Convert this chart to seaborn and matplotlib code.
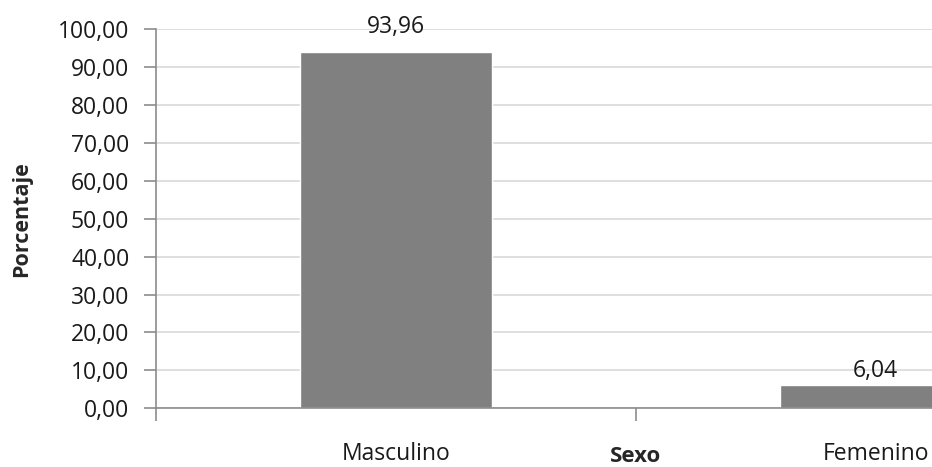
import matplotlib
matplotlib.use("Agg")
import matplotlib.pyplot as plt
import seaborn as sns
import pandas as pd

# datos
sexo = ["Masculino", "Femenino"]
porcentaje = [93.96, 6.04]
etiquetas = ["93,96", "6,04"]
yticks = [0, 10, 20, 30, 40, 50, 60, 70, 80, 90, 100]

sns.set_theme(style="white")
plt.rcParams['font.family'] = ['Open Sans', 'DejaVu Sans']
plt.rcParams['text.color'] = '#1a1a1a'

df = pd.DataFrame({'Sexo': sexo, 'Porcentaje': porcentaje})

fig = plt.figure(figsize=(9.32, 4.67), dpi=100)
# el eje se sale por la derecha como en la imagen original
ax = fig.add_axes([155.7 / 932, (467 - 408.3) / 467, 960 / 932, 379.3 / 467])

sns.barplot(data=df, x='Sexo', y='Porcentaje', color='#808080', saturation=1,
            width=0.4, ax=ax)

ax.set_xlim(-0.5, 1.5)
ax.set_ylim(0, 100)

ax.set_yticks(yticks)
ax.set_yticklabels([f"{v:.2f}".replace('.', ',') for v in yticks], fontsize=16.5, color='#1a1a1a')
ax.yaxis.grid(True, color='#d9d9d9', linewidth=1.2)
ax.set_axisbelow(True)

# etiquetas en el centro, marcas en los limites de categoria
ax.set_xticks([0, 1])
ax.set_xticklabels(sexo, fontsize=16.5, color='#1a1a1a')
ax.set_xticks([-0.5, 0.5, 1.5], minor=True)
ax.tick_params(axis='x', which='major', length=0, pad=24)
ax.tick_params(axis='x', which='minor', length=9, width=1.2, color='#8c8c8c', direction='out', bottom=True)
ax.tick_params(axis='y', length=9, width=1.2, color='#8c8c8c', direction='out', left=True, pad=10)

for s in ['top', 'right']:
    ax.spines[s].set_visible(False)
for s in ['left', 'bottom']:
    ax.spines[s].set_color('#8c8c8c')
    ax.spines[s].set_linewidth(1.2)

ax.set_ylabel('Porcentaje', fontsize=15.5, fontweight='bold')
ax.yaxis.set_label_coords((32 - 155.7) / 960, 0.5)
ax.set_xlabel('Sexo', fontsize=16, fontweight='bold')
ax.xaxis.set_label_coords(0.5, (408.3 - 446) / 379.3)

# etiquetas de valor
desplaz = [9, 2]
for barra, txt, d in zip(ax.patches, etiquetas, desplaz):
    ax.annotate(txt, (barra.get_x() + barra.get_width() / 2, barra.get_height()),
                xytext=(0, d), textcoords='offset points', ha='center', va='bottom',
                fontsize=16.5, color='#1a1a1a')

fig.savefig('out.png', dpi=100)
